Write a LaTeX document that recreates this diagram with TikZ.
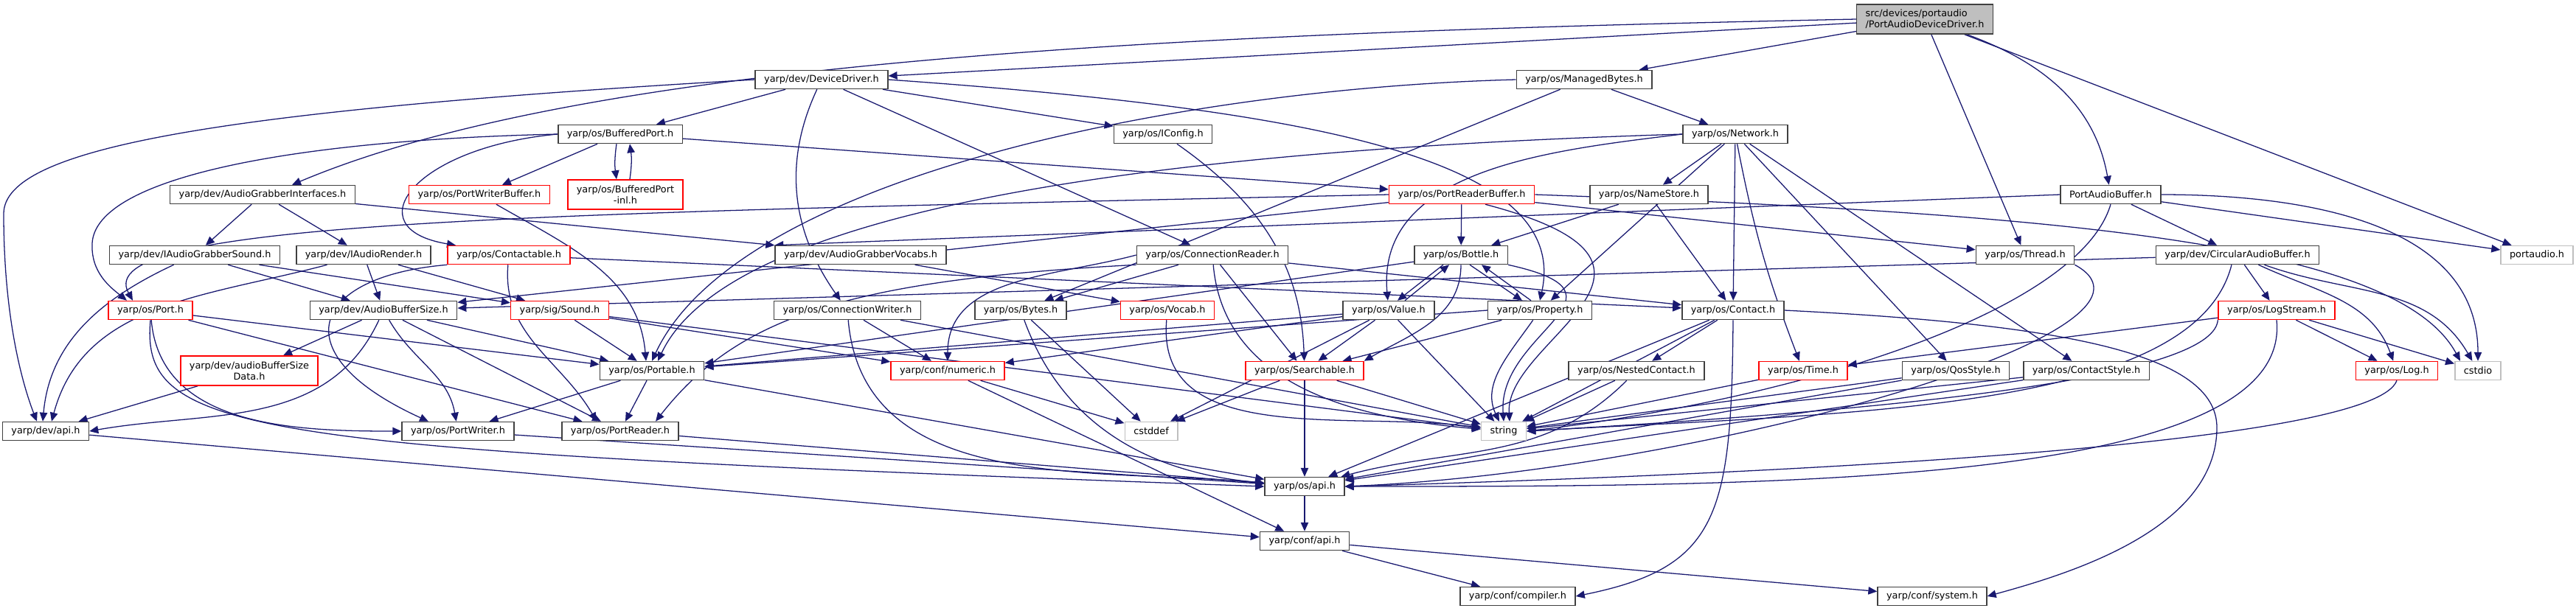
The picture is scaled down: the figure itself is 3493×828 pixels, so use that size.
\documentclass[tikz,border=0pt]{standalone}
\usepackage{fontspec}
\newfontfamily\graphfont{DejaVu Sans}
\usetikzlibrary{arrows.meta,backgrounds}

\definecolor{edgeblue}{HTML}{191970}
\definecolor{boxgray}{HTML}{404040}
\definecolor{extgray}{HTML}{BFBFBF}
\definecolor{rootfill}{HTML}{BFBFBF}

\begin{document}
\begin{tikzpicture}[
  x=0.25pt, y=-0.25pt,
  file/.style={draw=boxgray, line width=0.38pt, fill=white, font=\graphfont\fontsize{3.21}{3.75}\selectfont,
    inner xsep=3pt, inner ysep=0pt, minimum height=6.25pt},
  trunc/.style={file, draw=red},
  ext/.style={file, draw=extgray},
  twoline/.style={align=center, minimum height=10pt},
  rootfile/.style={file, fill=rootfill, align=left, minimum height=10pt},
  edge/.style={-{Triangle[length=3pt,width=2.6pt]}, draw=edgeblue, line width=0.32pt}
]
\useasboundingbox (0,0) rectangle (3493,828);

% row 0 and 1
\node[rootfile] (root) at (2610,26) {src/devices/portaudio\\/PortAudioDeviceDriver.h};
\node[file] (devdrv) at (1114,108) {yarp/dev/DeviceDriver.h};
\node[file] (mbytes) at (2148,108) {yarp/os/ManagedBytes.h};

% row 2
\node[file] (bport) at (841,182) {yarp/os/BufferedPort.h};
\node[file] (iconfig) at (1577,182) {yarp/os/IConfig.h};
\node[file] (network) at (2353,182) {yarp/os/Network.h};

% row 3
\node[file] (agi) at (356,264) {yarp/dev/AudioGrabberInterfaces.h};
\node[trunc] (pwbuf) at (650,264) {yarp/os/PortWriterBuffer.h};
\node[trunc, twoline] (bpinl) at (848,264) {yarp/os/BufferedPort\\-inl.h};
\node[trunc] (prbuf) at (1982,264) {yarp/os/PortReaderBuffer.h};
\node[file] (namestore) at (2236,264) {yarp/os/NameStore.h};
\node[file] (pabuf) at (2862,264) {PortAudioBuffer.h};

% row 4
\node[file] (iags) at (264,346) {yarp/dev/IAudioGrabberSound.h};
\node[file] (iar) at (493,346) {yarp/dev/IAudioRender.h};
\node[trunc] (contactable) at (690,346) {yarp/os/Contactable.h};
\node[file] (agvocabs) at (1167,346) {yarp/dev/AudioGrabberVocabs.h};
\node[file] (connreader) at (1644,346) {yarp/os/ConnectionReader.h};
\node[file] (bottle) at (1981,346) {yarp/os/Bottle.h};
\node[file] (thread) at (2746,346) {yarp/os/Thread.h};
\node[file] (cab) at (3034,346) {yarp/dev/CircularAudioBuffer.h};
\node[ext] (portaudio) at (3440,346) {portaudio.h};

% row 5
\node[trunc] (port) at (204,421) {yarp/os/Port.h};
\node[file] (absize) at (520,421) {yarp/dev/AudioBufferSize.h};
\node[trunc] (sound) at (759,421) {yarp/sig/Sound.h};
\node[file] (connwriter) at (1149,421) {yarp/os/ConnectionWriter.h};
\node[file] (bytes) at (1384,421) {yarp/os/Bytes.h};
\node[trunc] (vocab) at (1583,421) {yarp/os/Vocab.h};
\node[file] (value) at (1883,421) {yarp/os/Value.h};
\node[file] (property) at (2088,421) {yarp/os/Property.h};
\node[file] (contact) at (2350,421) {yarp/os/Contact.h};
\node[trunc] (logstream) at (3087,421) {yarp/os/LogStream.h};

% row 6
\node[trunc, twoline] (absdata) at (338,503) {yarp/dev/audioBufferSize\\Data.h};
\node[file] (portable) at (884,503) {yarp/os/Portable.h};
\node[trunc] (numeric) at (1285,503) {yarp/conf/numeric.h};
\node[trunc] (searchable) at (1769,503) {yarp/os/Searchable.h};
\node[file] (nested) at (2219,503) {yarp/os/NestedContact.h};
\node[trunc] (time) at (2445,503) {yarp/os/Time.h};
\node[file] (qos) at (2652,503) {yarp/os/QosStyle.h};
\node[file] (cstyle) at (2829,503) {yarp/os/ContactStyle.h};
\node[trunc] (log) at (3250,503) {yarp/os/Log.h};
\node[ext] (cstdio) at (3360,503) {cstdio};

% rows 7 to 10
\node[file] (devapi) at (62,585) {yarp/dev/api.h};
\node[file] (pwriter) at (621,585) {yarp/os/PortWriter.h};
\node[file] (preader) at (841,585) {yarp/os/PortReader.h};
\node[ext] (cstddef) at (1561,585) {cstddef};
\node[ext] (string) at (2039,585) {string};
\node[file] (osapi) at (1769,660) {yarp/os/api.h};
\node[file] (confapi) at (1769,734) {yarp/conf/api.h};
\node[file] (compiler) at (2058,809) {yarp/conf/compiler.h};
\node[file] (system) at (2620,809) {yarp/conf/system.h};

\begin{scope}[on background layer]
% from the driver header
\draw[edge] (root) -- (devdrv);
\draw[edge] (root.west) .. controls (1600,45) and (800,80) .. ([xshift=10pt]agi.north);
\draw[edge] (root) -- (mbytes);
\draw[edge] (root) -- (thread);
\draw[edge] (root) to[out=-20,in=100] (pabuf);
\draw[edge] (root) -- (portaudio);

\draw[edge] (devdrv.west) .. controls (300,150) and (5,200) .. (5,290) .. controls (5,430) and (30,520) .. ([xshift=-3pt]devapi.north);
\draw[edge] (devdrv) -- (bport);
\draw[edge] (devdrv) -- (iconfig);
\draw[edge] (devdrv) -- (connreader);
\draw[edge] (devdrv) to[out=-115,in=125] (connwriter);
\draw[edge] (devdrv.east) .. controls (1800,150) and (2130,220) .. (property.north);

\draw[edge] (mbytes) -- (network);
\draw[edge] (mbytes) -- (bytes);
\draw[edge] (mbytes.west) .. controls (1600,120) and (1000,240) .. (portable.north);

\draw[edge] ([xshift=-1.25pt]bport.south) to[bend right=8] ([xshift=-3pt]bpinl.north);
\draw[edge] ([xshift=1.5pt]bpinl.north) to[bend right=8] ([xshift=3.25pt]bport.south);
\draw[edge] (bport) -- (pwbuf);
\draw[edge] (bport.west) .. controls (560,200) and (480,310) .. ([xshift=-18pt]contactable.north);
\draw[edge] (bport.west) .. controls (400,190) and (130,240) .. (125,330) .. controls (123,370) and (150,390) .. ([xshift=-8pt]port.north);
\draw[edge] (bport) -- (prbuf);

\draw[edge] (iconfig) to[out=-35,in=92] (searchable);

\draw[edge] (network.west) to[out=187,in=95] (value);
\draw[edge] (network.west) .. controls (1700,200) and (1000,260) .. ([xshift=2pt]portable.north);
\draw[edge] (network) -- (namestore);
\draw[edge] (network) -- (property);
\draw[edge] (network) -- (contact);
\draw[edge] (network) to[bend right=5] (time);
\draw[edge] (network) -- (qos);
\draw[edge] (network) -- (cstyle);

\draw[edge] (agi) -- (iags);
\draw[edge] (agi) -- (iar);
\draw[edge] (agi) -- (agvocabs.north west);

\draw[edge] (pwbuf) to[out=-30,in=95] ([xshift=-2pt]portable.north);
\draw[edge] (prbuf) -- (bottle);
\draw[edge] (prbuf.west) .. controls (700,290) and (120,300) .. ([xshift=-6pt]port.north);
\draw[edge] (prbuf) -- (thread);
\draw[edge] (prbuf.east) .. controls (2800,290) and (3250,330) .. ([xshift=-6pt]cstdio.north);
\draw[edge] ([xshift=8pt]prbuf.south) .. controls (2330,360) and (2040,460) .. ([xshift=2pt]string.north);
\draw[edge] (prbuf) -- (absize);

\draw[edge] (namestore) -- (bottle);
\draw[edge] (namestore) -- (contact);

\draw[edge] (pabuf) -- (cab);
\draw[edge] (pabuf) -- (portaudio);
\draw[edge] (pabuf.east) to[out=0,in=90] (cstdio.north);
\draw[edge] (pabuf.west) -- (agvocabs.north west);
\draw[edge] (pabuf.south) .. controls (2820,420) and (2450,540) .. (string.east);

\draw[edge] (iags) to[out=205,in=85] ([xshift=-1pt]devapi.north);
\draw[edge] (iags) -- (absize);
\draw[edge] (iags) -- (sound);
\draw[edge] (iar) to[out=195,in=75] ([xshift=2pt]devapi.north);
\draw[edge] (iar) -- (absize);
\draw[edge] (iar) -- (sound);

\draw[edge] (contactable) to[out=-95,in=120] ([xshift=-8pt]preader.north);
\draw[edge] (contactable.south west) .. controls (420,375) and (380,480) .. ([xshift=-10pt]pwriter.north);
\draw[edge] (contactable) -- (contact);

\draw[edge] (agvocabs) -- (vocab);

\draw[edge] (connreader) -- (bytes);
\draw[edge] (connreader.west) to[out=195,in=90] (numeric.north);
\draw[edge] (connreader) -- (searchable);
\draw[edge] (connreader) to[out=-85,in=175] (string);
\draw[edge] (connreader) -- (contact);
\draw[edge] (connreader.south west) .. controls (1150,380) and (1000,430) .. ([xshift=12pt]preader.north);

\draw[edge] ([xshift=-6pt]bottle.south) -- ([xshift=3pt]value.north);
\draw[edge] ([xshift=5.5pt]value.north) -- ([xshift=-4pt]bottle.south);
\draw[edge] ([xshift=3pt]bottle.south) -- ([xshift=-6pt]property.north);
\draw[edge] ([xshift=-3pt]property.north) -- ([xshift=7pt]bottle.south);
\draw[edge] (bottle) -- (portable);
\draw[edge] (bottle) to[out=-90,in=30] (searchable.north east);
\draw[edge] (bottle.south east) .. controls (2230,400) and (2030,450) .. (string.north);

\draw[edge] (thread.south east) .. controls (2980,450) and (2300,640) .. (osapi.east);

\draw[edge] (cab) -- (absize);
\draw[edge] (cab) -- (logstream);
\draw[edge] (cab) to[out=-25,in=110] (log);
\draw[edge] (cab) to[out=-20,in=120] (cstdio);
\draw[edge] ([xshift=-2pt]cab.south) .. controls (2975,560) and (2500,560) .. (string.east);

\draw[edge] (port) -- (portable);
\draw[edge] (port) -- (preader);
\draw[edge] (port) to[out=-85,in=180] (pwriter.west);
\draw[edge] (port.south) .. controls (190,590) and (330,610) .. (osapi.west);

\draw[edge] (absize) -- (absdata);
\draw[edge] (absize) to[out=-115,in=10] (devapi.east);
\draw[edge] (absize) -- (portable);
\draw[edge] (absize) -- (preader);
\draw[edge] (absize) to[out=-60,in=100] (pwriter);

\draw[edge] (sound) -- (portable);
\draw[edge] (sound) -- (numeric);
\draw[edge] (sound) -- (string);

\draw[edge] (connwriter) -- (numeric);
\draw[edge] (connwriter) to[out=-85,in=175] (osapi);
\draw[edge] (connwriter) -- (string);

\draw[edge] (bytes) -- (cstddef);
\draw[edge] (bytes) to[out=-70,in=175] (osapi);

\draw[edge] (vocab) to[out=-95,in=172] (string);

\draw[edge] (value) -- (searchable);
\draw[edge] (value) -- (portable);
\draw[edge] (value) -- (string);
\draw[edge] (value) -- (numeric);
\draw[edge] (value) -- (cstddef);

\draw[edge] (property) -- (searchable);
\draw[edge] (property) to[out=-125,in=115] (string);
\draw[edge] (property.west) -- (portable);

\draw[edge] (contact) -- (nested);
\draw[edge] (contact) -- (string);
\draw[edge] (contact) -- (osapi);
\draw[edge] (contact.south) .. controls (2348,700) and (2330,770) .. (compiler.east);
\draw[edge] (contact.east) .. controls (2800,440) and (3006,480) .. (3006,580) .. controls (3006,720) and (2800,780) .. (system.east);

\draw[edge] (logstream) -- (log);
\draw[edge] (logstream) -- (cstdio);
\draw[edge] (logstream) -- (time);
\draw[edge] (logstream.south west) .. controls (3000,520) and (2500,560) .. (string.east);
\draw[edge] (logstream.south) .. controls (3110,660) and (2400,660) .. (osapi.east);

\draw[edge] (absdata) -- (devapi);
\draw[edge] (portable) -- (pwriter);
\draw[edge] (portable) -- (preader);
\draw[edge] (portable) -- (osapi);
\draw[edge] (numeric) -- (cstddef);
\draw[edge] (numeric) -- (confapi);
\draw[edge] (searchable) -- (osapi);
\draw[edge] (searchable) -- (string);
\draw[edge] (searchable) -- (cstddef);
\draw[edge] (nested) -- (string);
\draw[edge] (nested) to[out=-135,in=15] (osapi);
\draw[edge] (time) -- (string);
\draw[edge] (qos) -- (string);
\draw[edge] (qos) -- (osapi);
\draw[edge] (cstyle) -- (string);
\draw[edge] (cstyle) -- (osapi);
\draw[edge] (log.south) .. controls (3220,600) and (2500,640) .. (osapi.east);
\draw[edge] (devapi) -- (confapi);
\draw[edge] (pwriter) -- (osapi);
\draw[edge] (preader) -- (osapi);
\draw[edge] (osapi) -- (confapi);
\draw[edge] (confapi) -- (compiler);
\draw[edge] (confapi) -- (system);
\end{scope}
\end{tikzpicture}
\end{document}
